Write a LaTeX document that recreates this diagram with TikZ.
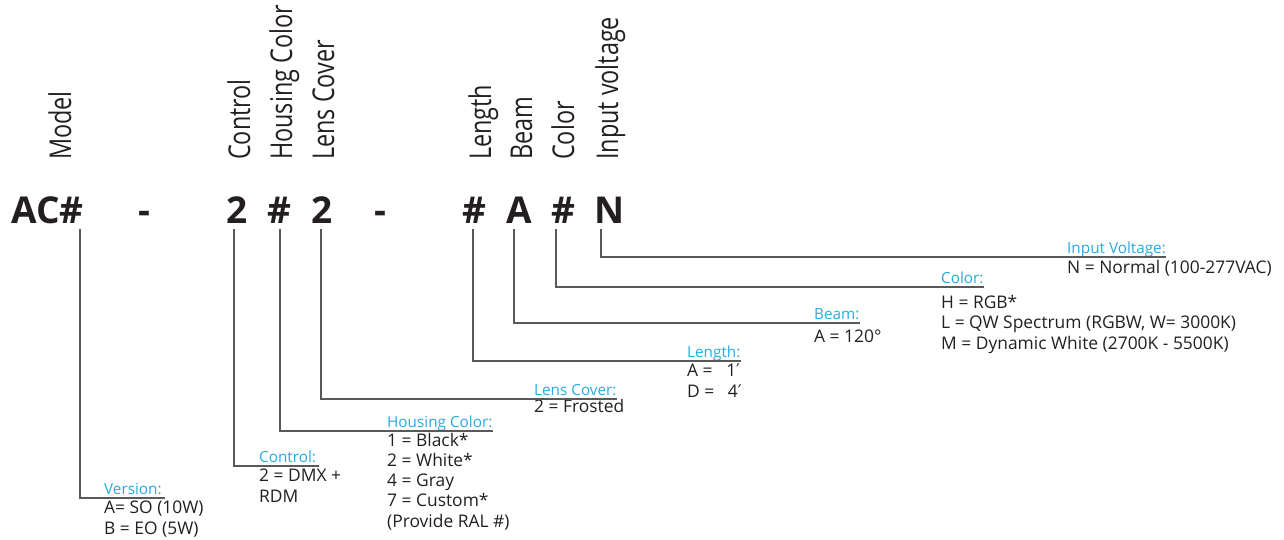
\documentclass[tikz,border=0pt]{standalone}
\usepackage{fontspec}
\setmainfont{Open Sans}
\newfontfamily\headfont[FakeStretch=0.78]{Open Sans}
\newfontfamily\symfont{DejaVu Sans}
\definecolor{ink}{HTML}{231F20}
\definecolor{keyblue}{HTML}{27AAE1}
\definecolor{leadgray}{HTML}{58595B}

\begin{document}
\begin{tikzpicture}[x=1pt,y=-1pt,
	head/.style={rotate=90,anchor=base west,inner sep=0,text=ink,font=\headfont\fontsize{30}{30}\selectfont},
	code/.style={anchor=base,inner sep=0,text=ink,font=\bfseries\fontsize{37}{37}\selectfont},
	key/.style={anchor=base west,inner sep=0,text=keyblue,font=\fontsize{15.3}{18}\selectfont},
	opts/.style={anchor=base west,inner sep=0,align=left,text=ink,font=\fontsize{17.4}{20.2}\selectfont},
	lead/.style={draw=leadgray,line width=1.3pt}]
	\useasboundingbox (0,0) rectangle (1284,539);
	\node[head] (model) at (71,160) {Model};
	\node[head] (control) at (250,160) {Control};
	\node[head] (housing) at (292,160) {Housing Color};
	\node[head] (lens) at (334,160) {Lens Cover};
	\node[head] (length) at (491,160) {Length};
	\node[head] (beam) at (532,160) {Beam};
	\node[head] (color) at (574,160) {Color};
	\node[head] (input) at (618,160) {Input voltage};
	\node[code] (ac) at (47.5,223) {AC\#};
	\node[code] (dasha) at (144,223) {-};
	\node[code] (ctl) at (237.5,223) {2};
	\node[code] (hou) at (279.5,223) {\#};
	\node[code] (lns) at (322.5,223) {2};
	\node[code] (dashb) at (380,223) {-};
	\node[code] (lgt) at (474.5,223) {\#};
	\node[code] (bm) at (519,223) {A};
	\node[code] (col) at (563.5,223) {\#};
	\node[code] (inp) at (609.5,223) {N};
	\node[key] (kver) at (104,494) {Version:};
	\node[opts] (over) at (104,534) {A= SO (10W)\\B = EO (5W)};
	\node[key] (kctl) at (259,462) {Control:};
	\node[opts] (octl) at (259,502) {2 = DMX +\\RDM};
	\node[key] (khou) at (387,427) {Housing Color:};
	\node[opts] (ohou) at (387,527) {1 = Black*\\2 = White*\\4 = Gray\\7 = Custom*\\(Provide RAL \#)};
	\node[key] (klns) at (534,395) {Lens Cover:};
	\node[opts] (olns) at (534,412) {2 = Frosted};
	\node[key] (klgt) at (687,357) {Length:};
	\node[opts] (olgt) at (687,397) {A =\ \ \ 1{\symfont ′}\\D =\ \ \ 4{\symfont ′}};
	\node[key] (kbm) at (814,319) {Beam:};
	\node[opts] (obm) at (814,342) {A = 120°};
	\node[key] (kcol) at (941,283) {Color:};
	\node[opts] (ocol) at (941,349) {H = RGB*\\L = QW Spectrum (RGBW, W= 3000K)\\M = Dynamic White (2700K - 5500K)};
	\node[key] (kinp) at (1067,253) {Input Voltage:};
	\node[opts] (oinp) at (1067,273) {N = Normal (100-277VAC)};
	\draw[lead] ([xshift=32.5pt,yshift=-6pt]ac.base) |- ([xshift=3pt,yshift=-4pt]kver.base east);
	\draw[lead] ([xshift=-3.5pt,yshift=-6pt]ctl.base) |- ([xshift=3pt,yshift=-4pt]kctl.base east);
	\draw[lead] ([xshift=0.5pt,yshift=-6pt]hou.base) |- ([yshift=-4pt]khou.base east);
	\draw[lead] ([xshift=-1.5pt,yshift=-6pt]lns.base) |- ([yshift=-4pt]klns.base east);
	\draw[lead] ([xshift=-1.5pt,yshift=-6pt]lgt.base) |- ([yshift=-4pt]klgt.base east);
	\draw[lead] ([xshift=-5pt,yshift=-6pt]bm.base) |- ([yshift=-4pt]kbm.base east);
	\draw[lead] ([xshift=-7.5pt,yshift=-6pt]col.base) |- ([yshift=-4pt]kcol.base east);
	\draw[lead] ([xshift=-8.5pt,yshift=-6pt]inp.base) |- ([yshift=-4pt]kinp.base east);
\end{tikzpicture}
\end{document}
